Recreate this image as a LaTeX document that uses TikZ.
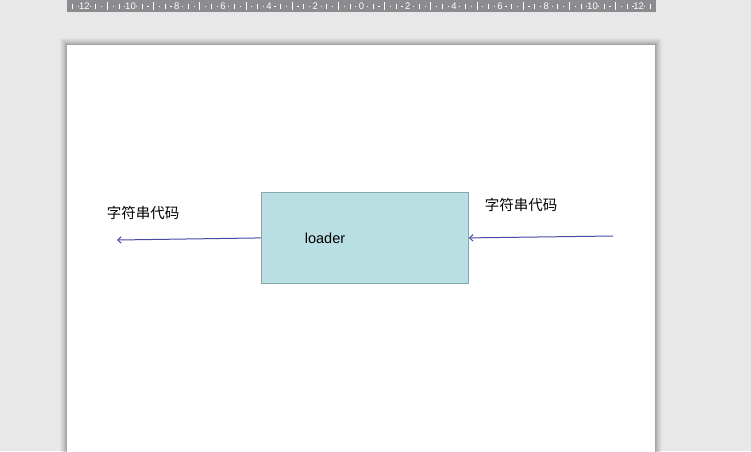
\documentclass[tikz,border=0pt]{standalone}
\usepackage{fontspec}
\setmainfont{Liberation Sans}
\newfontfamily\cjk{Noto Sans CJK SC}
\usetikzlibrary{arrows.meta}
\definecolor{bg}{HTML}{E8E8E8}
\definecolor{rulerc}{HTML}{8C8C90}
\definecolor{boxfill}{HTML}{BADFE3}
\definecolor{boxline}{HTML}{8BA6AA}
\definecolor{arrowc}{HTML}{4A4AA6}
\tikzset{
  loaderbox/.style={draw=boxline, line width=0.8pt, fill=boxfill, minimum width=207pt, minimum height=91pt, inner sep=0pt, anchor=north west},
  lab/.style={inner sep=0pt, font=\fontsize{14.5}{17}\selectfont},
  conn/.style={draw=arrowc, line width=1pt, -{Straight Barb[length=3.5pt,width=6.5pt]}},
  rulernum/.style={text=white, inner sep=0pt, font=\fontsize{9.5}{9.5}\selectfont},
  tick/.style={draw=white, line width=0.8pt}
}
\begin{document}
\begin{tikzpicture}[x=1pt,y=-1pt]
\useasboundingbox (0,0) rectangle (751,451);
\fill[bg] (0,0) rectangle (751,451);
% ruler
\fill[rulerc] (67,0) rectangle (656,12);
\foreach \n/\l in {-12/12,-10/10,-8/8,-6/6,-4/4,-2/2,0/0,2/2,4/4,6/6,8/8,10/10,12/12}
  \node[rulernum] at (361.5+\n*23.1,6.3) {\l};
\foreach \n in {-11,-9,-7,-5,-3,-1,1,3,5,7,9,11}
  \draw[tick] (361.5+\n*23.1,2) -- (361.5+\n*23.1,10);
\foreach \n in {-12.5,-11.5,-10.5,-9.5,-8.5,-7.5,-6.5,-5.5,-4.5,-3.5,-2.5,-1.5,-0.5,0.5,1.5,2.5,3.5,4.5,5.5,6.5,7.5,8.5,9.5,10.5,11.5,12.5}
  \draw[tick] (361.5+\n*23.1,3.5) -- (361.5+\n*23.1,8.5);
\foreach \n in {-12.25,-11.75,-11.25,-10.75,-10.25,-9.75,-9.25,-8.75,-8.25,-7.75,-7.25,-6.75,-6.25,-5.75,-5.25,-4.75,-4.25,-3.75,-3.25,-2.75,-2.25,-1.75,-1.25,-0.75,-0.25,0.25,0.75,1.25,1.75,2.25,2.75,3.25,3.75,4.25,4.75,5.25,5.75,6.25,6.75,7.25,7.75,8.25,8.75,9.25,9.75,10.25,10.75,11.25,11.75,12.25}
  \fill[white] (361+\n*23.1,5.5) rectangle ++(1.2,1.2);
% page shadow
\foreach \i/\o in {7/0.025,6/0.03,5/0.035,4/0.04,3/0.05,2/0.06,1/0.08}
  \fill[black,opacity=\o] (67-\i,45-\i) rectangle (655+\i,460);
\fill[white] (67,45) rectangle (655,460);
% diagram
\node[loaderbox] (loader) at (261,192) {};
\node[lab] (ltext) at (325,238) {loader};
\node[lab] (leftlab) at (143,213) {\cjk 字符串代码};
\node[lab] (rightlab) at (521,205) {\cjk 字符串代码};
\coordinate (lend) at (117,240);
\coordinate (rstart) at (613,236);
\draw[conn] (loader.west) -- (lend);
\draw[conn] (rstart) -- (loader.east);
\end{tikzpicture}
\end{document}
